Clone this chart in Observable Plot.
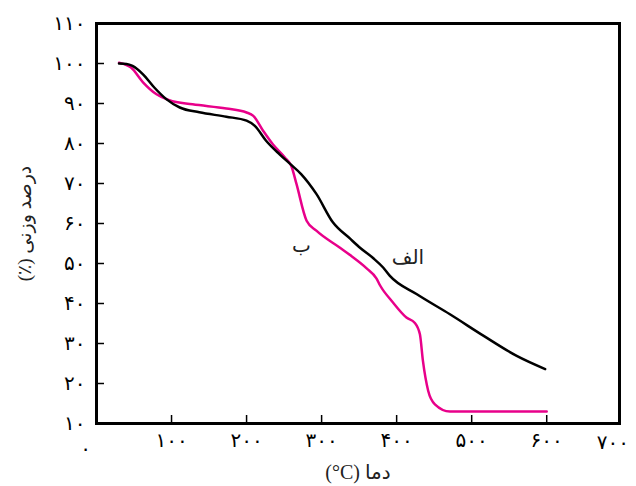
<!DOCTYPE html>
<html>
<head>
<meta charset="utf-8">
<script src="https://cdn.jsdelivr.net/npm/d3@7"></script>
<script src="https://cdn.jsdelivr.net/npm/@observablehq/plot@0.6"></script>
<style>
  html, body { margin: 0; padding: 0; background: #fff; }
</style>
</head>
<body>
<div id="chart"></div>
<script>
// Series الف (black)
const tempA = [30, 40, 48, 62, 77, 93, 111, 137, 173, 200, 211, 226, 244, 258, 273, 293, 315, 338, 352, 369, 382, 391, 427, 471, 516, 560, 598];
const massA = [100, 99.9, 99.4, 97.3, 94, 91.1, 89, 87.8, 86.7, 85.7, 84.4, 80.7, 77.3, 74.9, 72.3, 67.4, 60.3, 56.2, 53.8, 51.3, 49, 46.9, 42.3, 37.3, 31.9, 26.9, 23.6];
// Series ب (magenta)
const tempB = [30, 46, 62, 80, 97, 128, 173, 200, 209, 222, 235, 251, 260, 266.5, 280, 293, 324, 338, 360, 373, 378, 394, 413, 424, 431, 435, 442, 451, 471, 600];
const massB = [100.2, 99, 95.3, 92.3, 90.8, 89.8, 88.75, 87.75, 86.9, 83.2, 79.8, 76.5, 74.2, 69.9, 60.7, 58.2, 54, 52.1, 48.8, 46.3, 44.5, 40.5, 36.5, 35.2, 32.3, 25.7, 18.2, 14.8, 13, 13];

const xTicks = [0, 100, 200, 300, 400, 500, 600, 700];
const xTickLabels = ["۰", "۱۰۰", "۲۰۰", "۳۰۰", "۴۰۰", "۵۰۰", "۶۰۰", "۷۰۰"];
const yTicks = [10, 20, 30, 40, 50, 60, 70, 80, 90, 100, 110];
const yTickLabels = ["۱۰", "۲۰", "۳۰", "۴۰", "۵۰", "۶۰", "۷۰", "۸۰", "۹۰", "۱۰۰", "۱۱۰"];

const seriesLabels = [
  {name: "الف", temp: 415, mass: 51.5},
  {name: "ب", temp: 273, mass: 54.4}
];
const xLabel = "دما (\u200E°C)";
const yLabel = "درصد وزنی (٪)";

const dataA = tempA.map((t, i) => ({t, m: massA[i]}));
const dataB = tempB.map((t, i) => ({t, m: massB[i]}));
const xLab = new Map(xTicks.map((v, i) => [v, xTickLabels[i]]));
const yLab = new Map(yTicks.map((v, i) => [v, yTickLabels[i]]));
const innerX = [100, 200, 300, 400, 500, 600];
const innerY = yTicks.slice(1, -1);
const persian = "DejaVu Sans";

const chart = Plot.plot({
  width: 636,
  height: 486,
  marginTop: 23,
  marginBottom: 63,
  marginLeft: 96,
  marginRight: 17,
  style: {fontFamily: "'Liberation Serif', 'DejaVu Sans', serif", fontSize: "15px", background: "#fff"},
  x: {domain: [0, 697], axis: null},
  y: {domain: [10, 110], axis: null},
  marks: [
    Plot.axisX(innerX, {tickSize: 0, tickPadding: 9, tickFormat: d => xLab.get(d), fontSize: 20, fontFamily: persian}),
    Plot.text([0], {x: d => d, y: 10, text: d => xLab.get(d), dx: -11, dy: 25, fontSize: 20, fontFamily: persian}),
    Plot.text([700], {x: d => d, y: 10, text: d => xLab.get(d), dx: -9, dy: 19, fontSize: 20, fontFamily: persian}),
    Plot.axisY(yTicks, {tickSize: 0, tickPadding: 11, tickFormat: d => yLab.get(d), fontSize: 20, fontFamily: persian}),
    Plot.ruleX(innerX, {x: d => d, y1: 10, y2: 12, stroke: "#000", strokeWidth: 1.5}),
    Plot.ruleY(innerY, {y: d => d, x1: 0, x2: 10.7, stroke: "#000", strokeWidth: 1.5}),
    Plot.line(dataB, {x: "t", y: "m", stroke: "#e8008a", strokeWidth: 2.5, curve: "monotone-x"}),
    Plot.line(dataA, {x: "t", y: "m", stroke: "#000", strokeWidth: 2.5, curve: "monotone-x"}),
    Plot.text(seriesLabels, {x: "temp", y: "mass", text: "name", fontSize: 20, fill: "#222", fontFamily: persian}),
    Plot.text([xLabel], {frameAnchor: "bottom", textAnchor: "middle", text: d => d, dy: 55, fontSize: 20, fill: "#222"}),
    Plot.text([yLabel], {frameAnchor: "left", textAnchor: "middle", text: d => d, dx: -72, rotate: -90, fontSize: 19, fill: "#222"}),
    Plot.frame({stroke: "#000", strokeWidth: 3})
  ]
});

chart.querySelectorAll("text").forEach(el => {
  if (/[\u0621-\u064A]/.test(el.textContent)) el.setAttribute("direction", "rtl");
});
document.getElementById("chart").appendChild(chart);
</script>
</body>
</html>
